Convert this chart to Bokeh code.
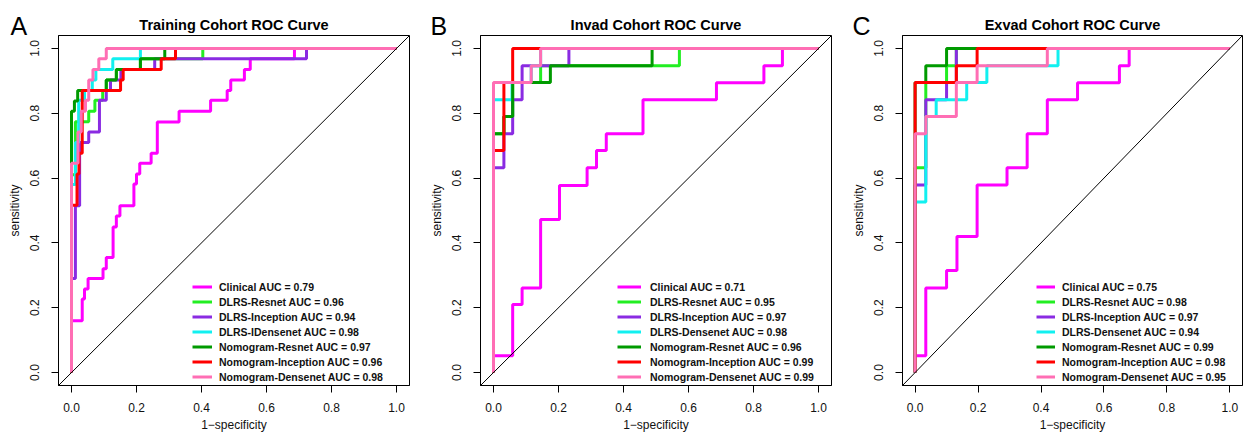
from bokeh.plotting import figure
from bokeh.layouts import row
from bokeh.models import Range1d, FixedTicker, Slope, Title
from bokeh.embed import file_html
from bokeh.resources import INLINE

FONT = "Liberation Sans"

TICKS = [0.0, 0.2, 0.4, 0.6, 0.8, 1.0]
TICK_LABELS = ["0.0", "0.2", "0.4", "0.6", "0.8", "1.0"]

PANEL_TITLES = ["Training Cohort ROC Curve", "Invad Cohort ROC Curve", "Exvad Cohort ROC Curve"]
PANEL_LETTERS = ["A", "B", "C"]

TRAIN_NAMES = ["Clinical", "DLRS-Resnet", "DLRS-Inception", "DLRS-IDensenet",
               "Nomogram-Resnet", "Nomogram-Inception", "Nomogram-Densenet"]
VAD_NAMES = ["Clinical", "DLRS-Resnet", "DLRS-Inception", "DLRS-Densenet",
             "Nomogram-Resnet", "Nomogram-Inception", "Nomogram-Densenet"]
COLORS = ["#FF00FF", "#22EE22", "#8A2BE2", "#11F0F0", "#009A00", "#FF0000", "#FF6EB4"]

TRAIN_AUC = [0.79, 0.96, 0.94, 0.98, 0.97, 0.96, 0.98]
INVAD_AUC = [0.71, 0.95, 0.97, 0.98, 0.96, 0.99, 0.99]
EXVAD_AUC = [0.75, 0.98, 0.97, 0.94, 0.99, 0.98, 0.95]

# ---- Training cohort ROC points (1-specificity, sensitivity) ----
TRAIN_CLINICAL_FPR = [0, 0, 0.033, 0.033, 0.04, 0.04, 0.051, 0.051, 0.097, 0.097, 0.107, 0.107, 0.128, 0.128,
                      0.138, 0.138, 0.149, 0.149, 0.192, 0.192, 0.2, 0.2, 0.21, 0.21, 0.245, 0.245, 0.264, 0.264,
                      0.331, 0.331, 0.428, 0.428, 0.479, 0.479, 0.49, 0.49, 0.532, 0.532, 0.55, 0.55, 0.686, 0.686, 1]
TRAIN_CLINICAL_TPR = [0, 0.16, 0.16, 0.227, 0.227, 0.258, 0.258, 0.29, 0.29, 0.32, 0.32, 0.355, 0.355, 0.449,
                      0.449, 0.483, 0.483, 0.515, 0.515, 0.582, 0.582, 0.613, 0.613, 0.646, 0.646, 0.677, 0.677, 0.773,
                      0.773, 0.806, 0.806, 0.84, 0.84, 0.87, 0.87, 0.903, 0.903, 0.935, 0.935, 0.968, 0.968, 1.0, 1.0]
TRAIN_DLRS_RES_FPR = [0, 0, 0.012, 0.012, 0.053, 0.053, 0.072, 0.072, 0.096, 0.096, 0.107, 0.107, 0.138, 0.138,
                      0.212, 0.212, 0.404, 0.404, 1]
TRAIN_DLRS_RES_TPR = [0, 0.61, 0.61, 0.774, 0.774, 0.806, 0.806, 0.84, 0.84, 0.87, 0.87, 0.903, 0.903, 0.935,
                      0.935, 0.968, 0.968, 1.0, 1.0]
TRAIN_DLRS_INC_FPR = [0, 0, 0.012, 0.012, 0.025, 0.025, 0.053, 0.053, 0.086, 0.086, 0.107, 0.107, 0.12, 0.12,
                      0.152, 0.152, 0.256, 0.256, 0.723, 0.723, 1]
TRAIN_DLRS_INC_TPR = [0, 0.29, 0.29, 0.515, 0.515, 0.71, 0.71, 0.742, 0.742, 0.84, 0.84, 0.87, 0.87, 0.903,
                      0.903, 0.935, 0.935, 0.968, 0.968, 1.0, 1.0]
TRAIN_DLRS_DEN_FPR = [0, 0, 0.012, 0.012, 0.022, 0.022, 0.04, 0.04, 0.064, 0.064, 0.075, 0.075, 0.127, 0.127,
                      0.212, 0.212, 1]
TRAIN_DLRS_DEN_TPR = [0, 0.58, 0.58, 0.71, 0.71, 0.84, 0.84, 0.87, 0.87, 0.903, 0.903, 0.935, 0.935, 0.968,
                      0.968, 1.0, 1.0]
TRAIN_NOMO_RES_FPR = [0, 0, 0.009, 0.009, 0.019, 0.019, 0.107, 0.107, 0.138, 0.138, 0.212, 0.212, 0.287, 0.287, 1]
TRAIN_NOMO_RES_TPR = [0, 0.806, 0.806, 0.838, 0.838, 0.87, 0.87, 0.903, 0.903, 0.935, 0.935, 0.968, 0.968, 1.0, 1.0]
TRAIN_NOMO_INC_FPR = [0, 0, 0.017, 0.017, 0.023, 0.023, 0.033, 0.033, 0.151, 0.151, 0.159, 0.159, 0.276, 0.276,
                      0.32, 0.32, 1]
TRAIN_NOMO_INC_TPR = [0, 0.516, 0.516, 0.613, 0.613, 0.677, 0.677, 0.87, 0.87, 0.903, 0.903, 0.935, 0.935, 0.968,
                      0.968, 1.0, 1.0]
TRAIN_NOMO_DEN_FPR = [0, 0, 0.02, 0.02, 0.03, 0.03, 0.043, 0.043, 0.053, 0.053, 0.066, 0.066, 0.084, 0.084,
                      0.107, 0.107, 1]
TRAIN_NOMO_DEN_TPR = [0, 0.646, 0.646, 0.742, 0.742, 0.806, 0.806, 0.84, 0.84, 0.903, 0.903, 0.935, 0.935, 0.968,
                      0.968, 1.0, 1.0]

# ---- Internal validation cohort ----
INVAD_CLINICAL_FPR = [0, 0, 0.059, 0.059, 0.088, 0.088, 0.145, 0.145, 0.203, 0.203, 0.288, 0.288, 0.317, 0.317,
                      0.347, 0.347, 0.46, 0.46, 0.686, 0.686, 0.832, 0.832, 0.889, 0.889, 1]
INVAD_CLINICAL_TPR = [0, 0.052, 0.052, 0.21, 0.21, 0.261, 0.261, 0.472, 0.472, 0.577, 0.577, 0.632, 0.632, 0.685,
                      0.685, 0.737, 0.737, 0.842, 0.842, 0.894, 0.894, 0.947, 0.947, 1.0, 1.0]
INVAD_DLRS_RES_FPR = [0, 0, 0.032, 0.032, 0.059, 0.059, 0.145, 0.145, 0.572, 0.572, 1]
INVAD_DLRS_RES_TPR = [0, 0.737, 0.737, 0.79, 0.79, 0.895, 0.895, 0.947, 0.947, 1.0, 1.0]
INVAD_DLRS_INC_FPR = [0, 0, 0.032, 0.032, 0.059, 0.059, 0.088, 0.088, 0.232, 0.232, 1]
INVAD_DLRS_INC_TPR = [0, 0.632, 0.632, 0.737, 0.737, 0.842, 0.842, 0.947, 0.947, 1.0, 1.0]
INVAD_DLRS_DEN_FPR = [0, 0, 0.057, 0.057, 0.116, 0.116, 0.145, 0.145, 1]
INVAD_DLRS_DEN_TPR = [0, 0.842, 0.842, 0.895, 0.895, 0.947, 0.947, 1.0, 1.0]
INVAD_NOMO_RES_FPR = [0, 0, 0.032, 0.032, 0.059, 0.059, 0.175, 0.175, 0.488, 0.488, 1]
INVAD_NOMO_RES_TPR = [0, 0.737, 0.737, 0.79, 0.79, 0.895, 0.895, 0.947, 0.947, 1.0, 1.0]
INVAD_NOMO_INC_FPR = [0, 0, 0.032, 0.032, 0.059, 0.059, 1]
INVAD_NOMO_INC_TPR = [0, 0.685, 0.685, 0.895, 0.895, 1.0, 1.0]
INVAD_NOMO_DEN_FPR = [0, 0, 0.116, 0.116, 0.145, 0.145, 1]
INVAD_NOMO_DEN_TPR = [0, 0.895, 0.895, 0.947, 0.947, 1.0, 1.0]

# ---- External validation cohort ----
EXVAD_CLINICAL_FPR = [0, 0, 0.034, 0.034, 0.1, 0.1, 0.133, 0.133, 0.197, 0.197, 0.292, 0.292, 0.356, 0.356,
                      0.42, 0.42, 0.516, 0.516, 0.649, 0.649, 0.68, 0.68, 1]
EXVAD_CLINICAL_TPR = [0, 0.052, 0.052, 0.261, 0.261, 0.315, 0.315, 0.42, 0.42, 0.579, 0.579, 0.632, 0.632, 0.737,
                      0.737, 0.842, 0.842, 0.894, 0.894, 0.947, 0.947, 1.0, 1.0]
EXVAD_DLRS_RES_FPR = [0, 0, 0.034, 0.034, 0.1, 0.1, 0.131, 0.131, 1]
EXVAD_DLRS_RES_TPR = [0, 0.632, 0.632, 0.895, 0.895, 0.947, 0.947, 1.0, 1.0]
EXVAD_DLRS_INC_FPR = [0, 0, 0.034, 0.034, 0.1, 0.1, 0.131, 0.131, 1]
EXVAD_DLRS_INC_TPR = [0, 0.579, 0.579, 0.842, 0.842, 0.895, 0.895, 1.0, 1.0]
EXVAD_DLRS_DEN_FPR = [0, 0, 0.034, 0.034, 0.067, 0.067, 0.164, 0.164, 0.228, 0.228, 0.454, 0.454, 1]
EXVAD_DLRS_DEN_TPR = [0, 0.526, 0.526, 0.79, 0.79, 0.842, 0.842, 0.895, 0.895, 0.947, 0.947, 1.0, 1.0]
EXVAD_NOMO_RES_FPR = [0, 0, 0.034, 0.034, 0.1, 0.1, 1]
EXVAD_NOMO_RES_TPR = [0, 0.895, 0.895, 0.947, 0.947, 1.0, 1.0]
EXVAD_NOMO_INC_FPR = [0, 0, 0.131, 0.131, 0.197, 0.197, 1]
EXVAD_NOMO_INC_TPR = [0, 0.895, 0.895, 0.947, 0.947, 1.0, 1.0]
EXVAD_NOMO_DEN_FPR = [0, 0, 0.034, 0.034, 0.131, 0.131, 0.197, 0.197, 0.42, 0.42, 1]
EXVAD_NOMO_DEN_TPR = [0, 0.737, 0.737, 0.79, 0.79, 0.895, 0.895, 0.947, 0.947, 1.0, 1.0]

TRAIN_FPR = [TRAIN_CLINICAL_FPR, TRAIN_DLRS_RES_FPR, TRAIN_DLRS_INC_FPR, TRAIN_DLRS_DEN_FPR,
             TRAIN_NOMO_RES_FPR, TRAIN_NOMO_INC_FPR, TRAIN_NOMO_DEN_FPR]
TRAIN_TPR = [TRAIN_CLINICAL_TPR, TRAIN_DLRS_RES_TPR, TRAIN_DLRS_INC_TPR, TRAIN_DLRS_DEN_TPR,
             TRAIN_NOMO_RES_TPR, TRAIN_NOMO_INC_TPR, TRAIN_NOMO_DEN_TPR]
INVAD_FPR = [INVAD_CLINICAL_FPR, INVAD_DLRS_RES_FPR, INVAD_DLRS_INC_FPR, INVAD_DLRS_DEN_FPR,
             INVAD_NOMO_RES_FPR, INVAD_NOMO_INC_FPR, INVAD_NOMO_DEN_FPR]
INVAD_TPR = [INVAD_CLINICAL_TPR, INVAD_DLRS_RES_TPR, INVAD_DLRS_INC_TPR, INVAD_DLRS_DEN_TPR,
             INVAD_NOMO_RES_TPR, INVAD_NOMO_INC_TPR, INVAD_NOMO_DEN_TPR]
EXVAD_FPR = [EXVAD_CLINICAL_FPR, EXVAD_DLRS_RES_FPR, EXVAD_DLRS_INC_FPR, EXVAD_DLRS_DEN_FPR,
             EXVAD_NOMO_RES_FPR, EXVAD_NOMO_INC_FPR, EXVAD_NOMO_DEN_FPR]
EXVAD_TPR = [EXVAD_CLINICAL_TPR, EXVAD_DLRS_RES_TPR, EXVAD_DLRS_INC_TPR, EXVAD_DLRS_DEN_TPR,
             EXVAD_NOMO_RES_TPR, EXVAD_NOMO_INC_TPR, EXVAD_NOMO_DEN_TPR]


def make_panel(title, letter, fprs, tprs, names, aucs, width, border_right,
               glyph_w, standoff, legend_x, letter_x):
    p = figure(width=width, height=434,
               x_range=Range1d(-0.04, 1.04), y_range=Range1d(-0.04, 1.04),
               output_backend="svg", toolbar_location=None,
               min_border_left=58, min_border_right=border_right,
               min_border_top=35, min_border_bottom=49,
               background_fill_color="white", border_fill_color="white",
               outline_line_color="black", outline_line_width=1)
    p.grid.visible = False

    # panel letter as the plot's own title (outermost), cohort title nearest the frame
    p.title.text = letter
    p.title.align = "left"
    p.title.offset = letter_x
    p.title.standoff = -56
    p.title.text_font = FONT
    p.title.text_font_size = "25px"
    p.title.text_font_style = "normal"
    p.title.text_color = "black"

    p.add_layout(Title(text=title, align="center", standoff=6, text_font=FONT,
                       text_font_size="14.5px", text_font_style="bold",
                       text_color="black"), "above")

    for ax in (p.xaxis[0], p.yaxis[0]):
        ax.ticker = FixedTicker(ticks=TICKS)
        ax.major_label_overrides = dict(zip(TICKS, TICK_LABELS))
        ax.minor_tick_line_color = None
        ax.major_tick_in = 0
        ax.major_tick_out = 7
        ax.major_tick_line_color = "black"
        ax.axis_line_color = "black"
        ax.major_label_text_font = FONT
        ax.major_label_text_font_size = "12px"
        ax.major_label_text_color = "#111111"
        ax.axis_label_text_font = FONT
        ax.axis_label_text_font_size = "12px"
        ax.axis_label_text_font_style = "normal"
        ax.axis_label_text_color = "#111111"
    p.xaxis.axis_label = "1\u2212specificity"
    p.yaxis.axis_label = "sensitivity"
    p.xaxis.major_label_standoff = 10
    p.xaxis.axis_label_standoff = 3
    p.yaxis.major_label_standoff = 12
    p.yaxis.axis_label_standoff = 6
    p.yaxis.major_label_orientation = "vertical"

    p.add_layout(Slope(gradient=1, y_intercept=0, line_color="black", line_width=1))

    for fpr, tpr, name, auc, color in zip(fprs, tprs, names, aucs, COLORS):
        p.line(fpr, tpr, line_color=color, line_width=3,
               legend_label=f"{name} AUC = {auc:.2f}")

    lg = p.legend[0]
    lg.location = (legend_x, 1)
    lg.border_line_alpha = 0
    lg.background_fill_alpha = 0
    lg.padding = 0
    lg.margin = 0
    lg.spacing = 0
    lg.glyph_width = glyph_w
    lg.glyph_height = 15
    lg.label_height = 15
    lg.label_standoff = standoff
    lg.label_text_font = FONT
    lg.label_text_font_size = "10.5px"
    lg.label_text_font_style = "bold"
    lg.label_text_color = "#111111"
    return p


pa = make_panel(PANEL_TITLES[0], PANEL_LETTERS[0], TRAIN_FPR, TRAIN_TPR, TRAIN_NAMES, TRAIN_AUC,
                422, 13, 20, 7, 134, -48)
pb = make_panel(PANEL_TITLES[1], PANEL_LETTERS[1], INVAD_FPR, INVAD_TPR, VAD_NAMES, INVAD_AUC,
                422, 13, 24, 9, 137, -50)
pc = make_panel(PANEL_TITLES[2], PANEL_LETTERS[2], EXVAD_FPR, EXVAD_TPR, VAD_NAMES, EXVAD_AUC,
                400, 2, 19, 7, 134, -50)

layout = row(pa, pb, pc)
open("out.html", "w").write(file_html(layout, INLINE))
